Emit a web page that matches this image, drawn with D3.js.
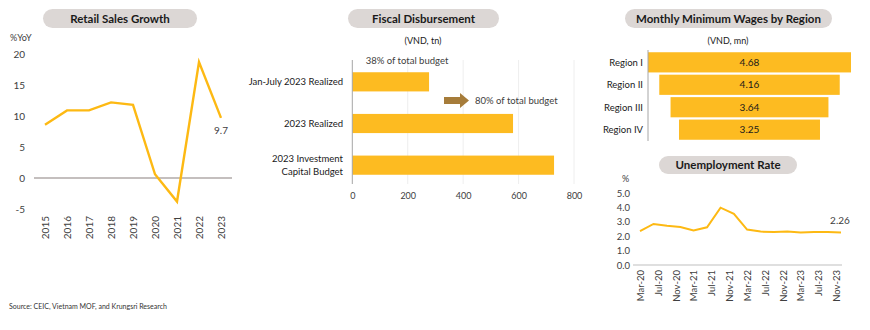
<!DOCTYPE html>
<html><head><meta charset="utf-8">
<script src="https://cdn.jsdelivr.net/npm/d3@7"></script>
<style>
html,body{margin:0;padding:0;background:#fff;}
svg{display:block;font-family:Lato,"Open Sans",sans-serif;}
</style></head>
<body>
<svg id="c" width="870" height="330"></svg>
<script>
// ---------- DATA ----------
const retailYears = ['2015','2016','2017','2018','2019','2020','2021','2022','2023'];
const retailGrowth = [8.6, 10.9, 10.9, 12.2, 11.8, 0.6, -3.8, 18.7, 9.7];
const retailTicks = [-5, 0, 5, 10, 15, 20];

const fiscalCategories = ['Jan-July 2023 Realized', '2023 Realized', '2023 Investment Capital Budget'];
const fiscalValues = [277, 580, 728];
const fiscalTicks = [0, 200, 400, 600, 800];
const fiscalNotes = ['38% of total budget', '80% of total budget'];

const wageRegions = ['Region I', 'Region II', 'Region III', 'Region IV'];
const wageValues = [4.68, 4.16, 3.64, 3.25];

const unempDates = ['2020-03','2020-06','2020-09','2020-12','2021-03','2021-06','2021-09','2021-12',
                    '2022-03','2022-06','2022-09','2022-12','2023-03','2023-06','2023-09','2023-12'];
const unempRates = [2.35, 2.85, 2.72, 2.64, 2.40, 2.62, 3.98, 3.56, 2.46, 2.32, 2.29, 2.32, 2.25, 2.30, 2.30, 2.26];
const unempTickLabels = ['Mar-20','Jul-20','Nov-20','Mar-21','Jul-21','Nov-21','Mar-22','Jul-22',
                         'Nov-22','Mar-23','Jul-23','Nov-23'];
const unempTicks = [0, 1, 2, 3, 4, 5];

// ---------- STYLE ----------
const YEL = '#FDB913', BAR = '#FDBB21', PILL = '#DCD7D5', TXT = '#404040', AX = '#BFBFBF';
const svg = d3.select('#c');

function pill(x0, x1, y0, y1, text) {
  const g = svg.append('g');
  g.append('rect').attr('x', x0).attr('y', y0).attr('width', x1 - x0).attr('height', y1 - y0)
    .attr('rx', (y1 - y0) / 2).attr('fill', PILL);
  g.append('text').attr('x', (x0 + x1) / 2).attr('y', (y0 + y1) / 2 + 4).attr('text-anchor', 'middle')
    .attr('font-size', 11.5).attr('font-weight', 700).attr('fill', '#1a1a1a').text(text);
}

// ---------- RETAIL SALES ----------
pill(43, 197, 9, 28, 'Retail Sales Growth');
const rx = d3.scalePoint().domain(retailYears).range([45, 221]);
const ry = d3.scaleLinear().domain([-5, 20]).range([209, 54]);
svg.append('text').attr('x', 10).attr('y', 41).attr('font-size', 9).attr('fill', TXT).text('%YoY');
const ryAxis = svg.append('g').attr('transform', 'translate(27,0)')
  .call(d3.axisLeft(ry).tickValues(retailTicks).tickFormat(d => String(d)).tickSize(0).tickPadding(2));
ryAxis.select('.domain').remove();
ryAxis.selectAll('text').attr('font-size', 10).attr('fill', TXT).attr('font-family', 'Lato');
svg.append('line').attr('x1', 34).attr('x2', 232).attr('y1', ry(0)).attr('y2', ry(0))
  .attr('stroke', '#B0AAA8').attr('stroke-width', 1.5);
const rxAxis = svg.append('g').attr('transform', 'translate(0,214)')
  .call(d3.axisBottom(rx).tickSize(0).tickPadding(0));
rxAxis.select('.domain').remove();
rxAxis.selectAll('text').attr('font-size', 10).attr('fill', TXT).attr('font-family', 'Lato')
  .attr('text-anchor', 'end').attr('transform', 'rotate(-90)').attr('dx', '-2').attr('dy', '0.35em').attr('y', 0).attr('x', 0);
svg.append('path').datum(retailGrowth)
  .attr('d', d3.line().x((d, i) => rx(retailYears[i])).y(d => ry(d)))
  .attr('fill', 'none').attr('stroke', YEL).attr('stroke-width', 2.4).attr('stroke-linejoin', 'miter');
svg.append('text').attr('x', rx('2023')).attr('y', ry(retailGrowth[8]) + 16).attr('text-anchor', 'middle')
  .attr('font-size', 10).attr('fill', TXT).text(retailGrowth[8]);

// ---------- FISCAL DISBURSEMENT ----------
pill(348, 499, 9, 28, 'Fiscal Disbursement');
svg.append('text').attr('x', 423).attr('y', 44).attr('text-anchor', 'middle').attr('font-size', 9)
  .attr('fill', '#1a1a1a').text('(VND, tn)');
const fx = d3.scaleLinear().domain([0, 800]).range([352.3, 574]);
const fy = d3.scaleBand().domain(fiscalCategories).range([61, 186]).paddingInner(0.54).paddingOuter(0.27);
svg.append('g').selectAll('line').data(fiscalTicks.slice(1)).join('line')
  .attr('x1', d => fx(d)).attr('x2', d => fx(d)).attr('y1', 60).attr('y2', 184)
  .attr('stroke', '#EEEEEE').attr('stroke-width', 1);
svg.append('g').selectAll('rect').data(fiscalValues).join('rect')
  .attr('x', fx(0)).attr('y', (d, i) => fy(fiscalCategories[i])).attr('width', d => fx(d) - fx(0))
  .attr('height', fy.bandwidth()).attr('fill', BAR);
svg.append('line').attr('x1', fx(0)).attr('x2', fx(0)).attr('y1', 60).attr('y2', 184)
  .attr('stroke', '#A6A6A6').attr('stroke-width', 1);
const fxAxis = svg.append('g').attr('transform', 'translate(0,193)')
  .call(d3.axisBottom(fx).tickValues(fiscalTicks).tickSize(0).tickPadding(0));
fxAxis.select('.domain').remove();
fxAxis.selectAll('text').attr('font-size', 9).attr('fill', TXT).attr('font-family', 'Lato');
fiscalCategories.forEach((c, i) => {
  const cy = fy(c) + fy.bandwidth() / 2;
  const t = svg.append('text').attr('text-anchor', 'end').attr('font-size', 9.5).attr('fill', '#1a1a1a');
  if (c === '2023 Investment Capital Budget') {
    t.append('tspan').attr('x', 343).attr('y', cy - 3).text('2023 Investment');
    t.append('tspan').attr('x', 343).attr('y', cy + 10).text('Capital Budget');
  } else {
    t.attr('x', 343).attr('y', cy + 3.5).text(c);
  }
});
svg.append('text').attr('x', 407).attr('y', 64).attr('text-anchor', 'middle').attr('font-size', 9.5)
  .attr('fill', TXT).text(fiscalNotes[0]);
svg.append('path').attr('d', 'M444,97 L460,97 L460,93 L469,100.5 L460,108 L460,104 L444,104 Z')
  .attr('fill', '#A67C3A');
svg.append('text').attr('x', 475).attr('y', 104).attr('font-size', 9.5).attr('fill', TXT).text(fiscalNotes[1]);

// ---------- MINIMUM WAGES ----------
pill(625, 832, 9, 28, 'Monthly Minimum Wages by Region');
svg.append('text').attr('x', 728).attr('y', 44).attr('text-anchor', 'middle').attr('font-size', 9)
  .attr('fill', '#1a1a1a').text('(VND, mn)');
const wy = d3.scaleBand().domain(wageRegions).range([50, 142]).padding(0.1);
const ww = d3.scaleLinear().domain([0, 4.68]).range([0, 203]);
const wc = 749.5;
svg.append('g').selectAll('rect').data(wageValues).join('rect')
  .attr('x', d => wc - ww(d) / 2).attr('y', (d, i) => wy(wageRegions[i]))
  .attr('width', d => ww(d)).attr('height', wy.bandwidth()).attr('fill', BAR);
svg.append('g').selectAll('text').data(wageValues).join('text')
  .attr('x', wc).attr('y', (d, i) => wy(wageRegions[i]) + wy.bandwidth() / 2 + 3.5)
  .attr('text-anchor', 'middle').attr('font-size', 10).attr('fill', '#1a1a1a').text(d => d.toFixed(2));
svg.append('line').attr('x1', 648).attr('x2', 648).attr('y1', 50).attr('y2', 141)
  .attr('stroke', '#A6A6A6').attr('stroke-width', 1);
svg.append('g').selectAll('text.r').data(wageRegions).join('text')
  .attr('x', 643).attr('y', d => wy(d) + wy.bandwidth() / 2 + 3.5).attr('text-anchor', 'end')
  .attr('font-size', 9.5).attr('fill', '#1a1a1a').text(d => d);

// ---------- UNEMPLOYMENT ----------
pill(659, 797, 156, 174, 'Unemployment Rate');
const parseM = d3.timeParse('%Y-%m');
const parseT = d3.timeParse('%b-%y');
const ux = d3.scaleTime().domain([parseM('2020-03'), parseM('2023-12')]).range([640, 841]);
const uy = d3.scaleLinear().domain([0, 5]).range([265, 193]);
svg.append('text').attr('x', 622).attr('y', 182).attr('font-size', 9).attr('fill', TXT).text('%');
const uyAxis = svg.append('g').attr('transform', 'translate(630,0)')
  .call(d3.axisLeft(uy).tickValues(unempTicks).tickFormat(d3.format('.1f')).tickSize(0).tickPadding(0));
uyAxis.select('.domain').remove();
uyAxis.selectAll('text').attr('font-size', 9.5).attr('fill', TXT).attr('font-family', 'Lato');
svg.append('line').attr('x1', 633).attr('x2', 842).attr('y1', uy(0)).attr('y2', uy(0))
  .attr('stroke', AX).attr('stroke-width', 1.2);
const uxAxis = svg.append('g').attr('transform', 'translate(0,269)')
  .call(d3.axisBottom(ux).tickValues(unempTickLabels.map(parseT)).tickFormat(d3.timeFormat('%b-%y'))
    .tickSize(0).tickPadding(0));
uxAxis.select('.domain').remove();
uxAxis.selectAll('text').attr('font-size', 9.5).attr('fill', TXT).attr('font-family', 'Lato')
  .attr('text-anchor', 'end').attr('transform', 'rotate(-90)').attr('dx', '-1').attr('dy', '0.35em').attr('y', 0).attr('x', 0);
svg.append('path').datum(unempRates)
  .attr('d', d3.line().x((d, i) => ux(parseM(unempDates[i]))).y(d => uy(d)))
  .attr('fill', 'none').attr('stroke', YEL).attr('stroke-width', 2);
svg.append('text').attr('x', 840).attr('y', 224).attr('text-anchor', 'middle').attr('font-size', 10)
  .attr('fill', TXT).text(unempRates[unempRates.length - 1].toFixed(2));

// ---------- SOURCE ----------
svg.append('text').attr('x', 9).attr('y', 309).attr('font-size', 7).attr('fill', '#333')
  .text('Source: CEIC, Vietnam MOF, and Krungsri Research');
</script>
</body></html>
